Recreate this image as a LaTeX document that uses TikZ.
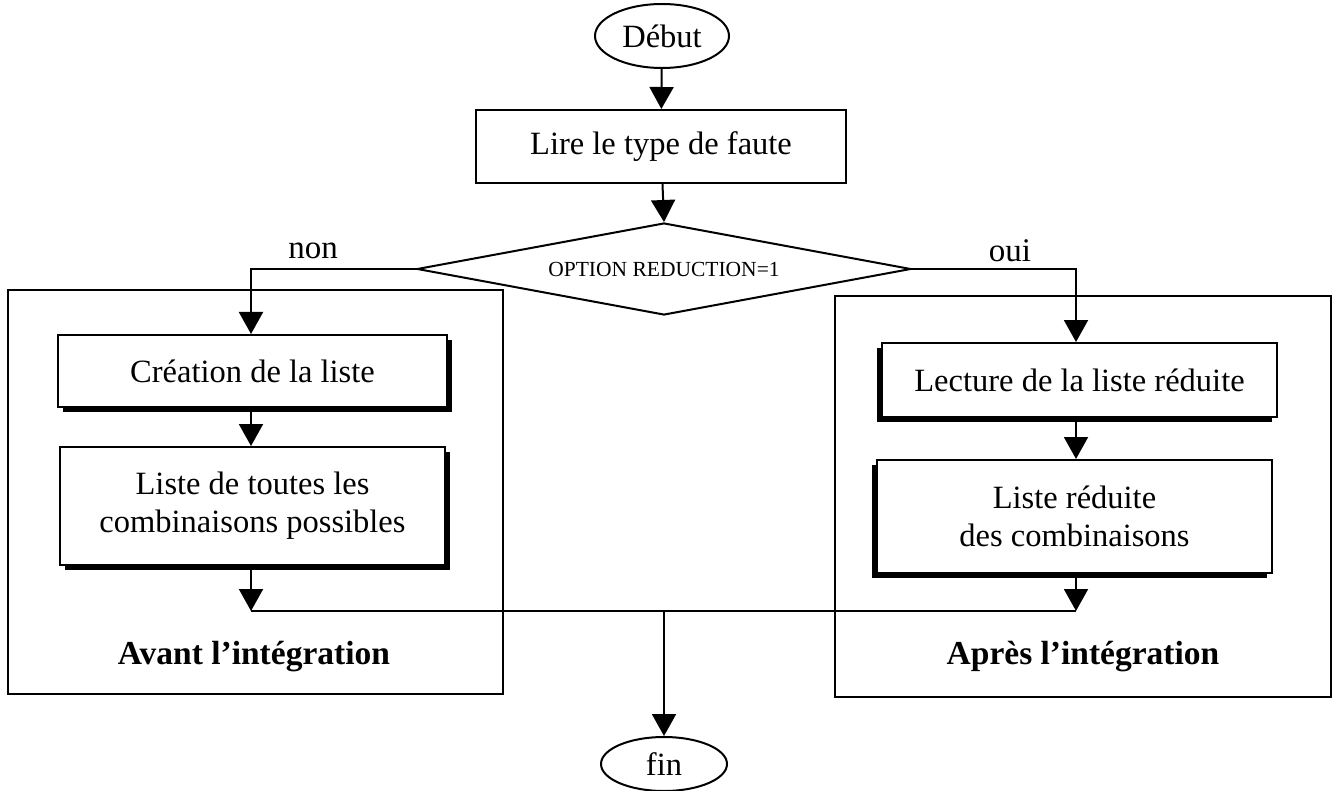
\documentclass[tikz,border=0pt]{standalone}
\usepackage{fontspec}
\setmainfont{Liberation Serif}
\usetikzlibrary{shapes.geometric,arrows.meta,calc}

\tikzset{
  link/.style={line width=2pt},
  arr/.style={link,-{Triangle[length=22pt,width=24pt]}},
  term/.style={draw,line width=2pt,ellipse,inner sep=0pt,font=\fontsize{32.5}{36}\selectfont},
  plain/.style={draw,line width=2pt,rectangle,inner sep=0pt,align=center,font=\fontsize{32.5}{38}\selectfont},
  stepbox/.style={draw,line width=2pt,fill=white,rectangle,inner sep=0pt,align=center,font=\fontsize{32.5}{38}\selectfont},
  test/.style={draw,line width=2pt,diamond,aspect=5.37,inner sep=0pt,font=\fontsize{21.5}{24}\selectfont},
  frame/.style={draw,line width=1.6pt},
  title/.style={font=\fontsize{33.5}{36}\selectfont\bfseries},
  tag/.style={font=\fontsize{33}{36}\selectfont}
}

\begin{document}
\begin{tikzpicture}[x=1pt,y=-1pt]
\useasboundingbox (0,0) rectangle (1340,791);

% group frames
\draw[frame] (8,290) rectangle (503,694);
\draw[frame] (835,296) rectangle (1331,697);

% start, read, test
\node[term,minimum width=134pt,minimum height=64pt] (debut) at (662,36) {Début};
\node[plain,minimum width=370pt,minimum height=73pt] (lire) at (661,146.5) {Lire le type de faute};
\node[test,minimum width=494pt,minimum height=92pt] (opt) at (664,269) {OPTION REDUCTION=1};

% left branch boxes (shadow to the lower right)
\fill (63,340) rectangle (452,412);
\node[stepbox,minimum width=389pt,minimum height=72pt] (creation) at (252.5,371) {Création de la liste};
\fill (65,452) rectangle (450,570);
\node[stepbox,minimum width=385pt,minimum height=118pt] (liste) at (252.5,506) {Liste de toutes les\\combinaisons possibles};

% right branch boxes (shadow to the lower left)
\fill (877,348) rectangle (1272,422);
\node[stepbox,minimum width=395pt,minimum height=74pt] (lecture) at (1079.5,380) {Lecture de la liste réduite};
\fill (872,465) rectangle (1267,578);
\node[stepbox,minimum width=395pt,minimum height=113pt] (reduite) at (1074.5,516.5) {Liste réduite\\des combinaisons};

% end
\node[term,minimum width=126pt,minimum height=54pt] (fin) at (664,764) {fin};

% group titles
\node[title] (avant) at (254,657) {Avant l’intégration};
\node[title] (apres) at (1083,657) {Après l’intégration};

% junction points
\coordinate (nonc) at (251,269);
\coordinate (ouic) at (1076,269);
\coordinate (ljoin) at (251,611);
\coordinate (rjoin) at (1076,611);
\coordinate (mjoin) at (664,611);

% connectors
\draw[arr] (debut) -- (lire);
\draw[arr] (lire) -- (opt.north);
\draw[arr] (opt.west) -- (nonc) -- (nonc |- creation.north);
\draw[arr] (opt.east) -- (ouic) -- (ouic |- lecture.north);
\draw[arr] (nonc |- creation.south) -- (nonc |- liste.north);
\draw[arr] (ouic |- lecture.south) -- (ouic |- reduite.north);
\draw[arr] (nonc |- liste.south) -- (ljoin);
\draw[arr] (ouic |- reduite.south) -- (rjoin);
\draw[link] (ljoin) -- (rjoin);
\draw[arr] (mjoin) -- (fin);

% branch labels
\node[tag] (non) at (313,251) {non};
\node[tag] (oui) at (1010,251) {oui};
\end{tikzpicture}
\end{document}
